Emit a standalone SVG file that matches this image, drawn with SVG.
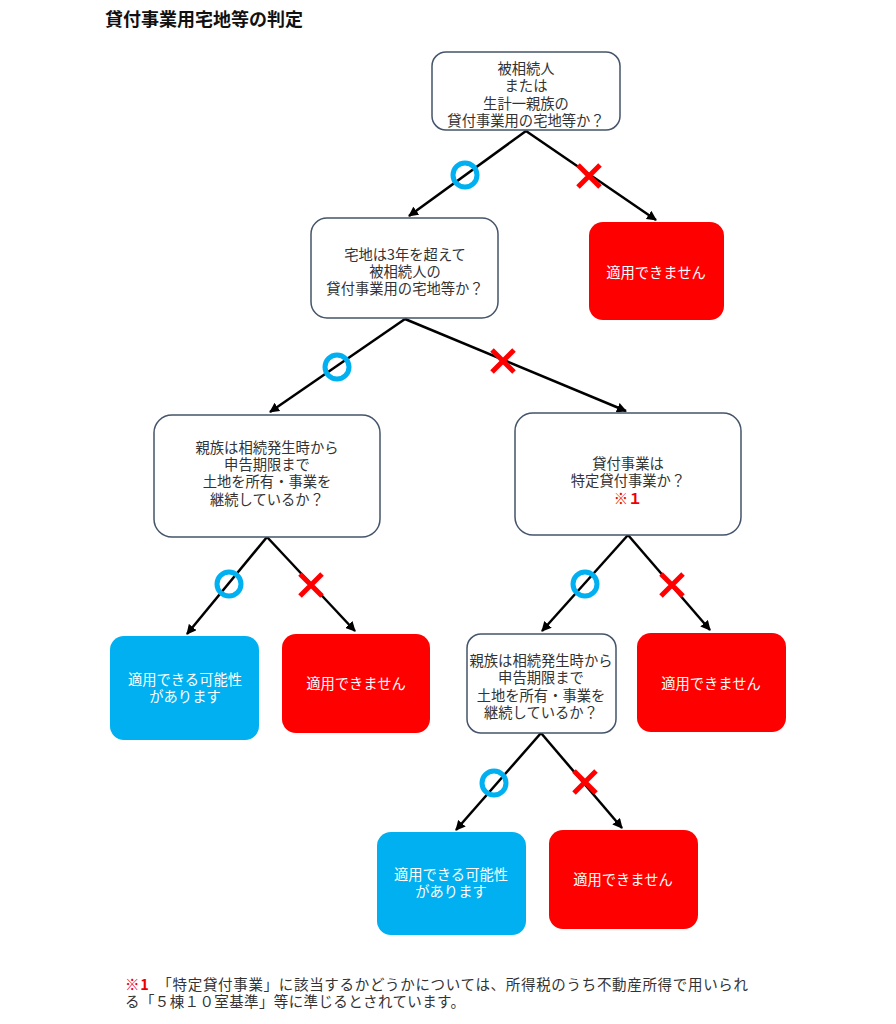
<svg xmlns="http://www.w3.org/2000/svg" width="896" height="1024" viewBox="0 0 896 1024">
<defs>
<marker id="ah" viewBox="0 0 10 10" refX="9" refY="5" markerWidth="4" markerHeight="4" orient="auto" markerUnits="strokeWidth">
<path d="M0,0 L10,5 L0,10 z" fill="#000"/>
</marker>
<style>
text{font-family:"Noto Sans CJK JP","Noto Sans",sans-serif;text-anchor:middle;dominant-baseline:central}
.q rect{fill:#fff;stroke:#44546a;stroke-width:1.5}
.q text{font-size:14.3px;fill:#333}
.ng rect{fill:#ff0000}
.ok rect{fill:#00b0f0}
.ng text,.ok text{font-size:14.3px;fill:#fff}
.c line{stroke:#000;stroke-width:2.5;marker-end:url(#ah)}
.o{fill:none;stroke:#00b0f0;stroke-width:5}
.x{stroke:#ff0000;stroke-width:5}
</style>
</defs>
<rect width="896" height="1024" fill="#fff"/>
<text x="105" y="18" style="text-anchor:start;font-size:18px;font-weight:bold;fill:#111">貸付事業用宅地等の判定</text>

<g id="connectors" class="c">
<line x1="526" y1="131" x2="409" y2="216"/>
<line x1="526" y1="131" x2="656" y2="220"/>
<line x1="405" y1="319" x2="270" y2="412"/>
<line x1="405" y1="319" x2="626" y2="411"/>
<line x1="267" y1="537" x2="187" y2="634"/>
<line x1="267" y1="537" x2="355" y2="631"/>
<line x1="628" y1="535" x2="542" y2="631"/>
<line x1="628" y1="535" x2="710" y2="630"/>
<line x1="541" y1="733" x2="456" y2="830"/>
<line x1="541" y1="733" x2="622" y2="828"/>
</g>

<g id="marks">
<circle class="o" cx="465" cy="175" r="12"/>
<path class="x" d="M578,165 L600,187 M600,165 L578,187"/>
<circle class="o" cx="337" cy="367" r="12"/>
<path class="x" d="M492,350 L514,372 M514,350 L492,372"/>
<circle class="o" cx="229" cy="584" r="12"/>
<path class="x" d="M300,574 L322,596 M322,574 L300,596"/>
<circle class="o" cx="585" cy="584" r="12"/>
<path class="x" d="M661,574 L683,596 M683,574 L661,596"/>
<circle class="o" cx="494" cy="783" r="12"/>
<path class="x" d="M574,771 L596,793 M596,771 L574,793"/>
</g>

<g id="n1" class="q">
<rect x="432" y="52" width="188" height="78" rx="14"/>
<text x="526" y="67">被相続人</text>
<text x="526" y="84">または</text>
<text x="526" y="102">生計一親族の</text>
<text x="526" y="119">貸付事業用の宅地等か？</text>
</g>

<g id="ng1" class="ng">
<rect x="589" y="222" width="135" height="98" rx="14"/>
<text x="656" y="271">適用できません</text>
</g>

<g id="n2" class="q">
<rect x="311" y="218" width="187" height="100" rx="16"/>
<text x="405" y="253">宅地は3年を超えて</text>
<text x="405" y="270">被相続人の</text>
<text x="405" y="287">貸付事業用の宅地等か？</text>
</g>

<g id="n3" class="q">
<rect x="154" y="415" width="226" height="122" rx="18"/>
<text x="267" y="446">親族は相続発生時から</text>
<text x="267" y="463">申告期限まで</text>
<text x="267" y="480">土地を所有・事業を</text>
<text x="267" y="498">継続しているか？</text>
</g>

<g id="n4" class="q">
<rect x="515" y="413" width="226" height="122" rx="18"/>
<text x="628" y="462">貸付事業は</text>
<text x="628" y="479">特定貸付事業か？</text>
<text x="628" y="497" style="fill:#e00;font-weight:bold">※１</text>
</g>

<g id="ok1" class="ok">
<rect x="110" y="636" width="149" height="104" rx="14"/>
<text x="185" y="678">適用できる可能性</text>
<text x="185" y="695">があります</text>
</g>

<g id="ng2" class="ng">
<rect x="282" y="634" width="148" height="99" rx="14"/>
<text x="356" y="682">適用できません</text>
</g>

<g id="n5" class="q">
<rect x="467" y="634" width="149" height="99" rx="14"/>
<text x="541" y="659">親族は相続発生時から</text>
<text x="541" y="676">申告期限まで</text>
<text x="541" y="694">土地を所有・事業を</text>
<text x="541" y="711">継続しているか？</text>
</g>

<g id="ng3" class="ng">
<rect x="637" y="633" width="149" height="99" rx="14"/>
<text x="711" y="682">適用できません</text>
</g>

<g id="ok2" class="ok">
<rect x="377" y="832" width="149" height="103" rx="14"/>
<text x="451" y="873">適用できる可能性</text>
<text x="451" y="890">があります</text>
</g>

<g id="ng4" class="ng">
<rect x="549" y="830" width="149" height="99" rx="14"/>
<text x="623" y="878">適用できません</text>
</g>

<g id="note" style="font-size:14.5px">
<text x="125" y="983" textLength="623" lengthAdjust="spacing" style="text-anchor:start;fill:#333"><tspan style="fill:#e00;font-weight:bold">※1</tspan>　「特定貸付事業」に該当するかどうかについては、所得税のうち不動産所得で用いられ</text>
<text x="125" y="1000" textLength="340" lengthAdjust="spacing" style="text-anchor:start;fill:#333">る「５棟１０室基準」等に準じるとされています。</text>
</g>
</svg>
